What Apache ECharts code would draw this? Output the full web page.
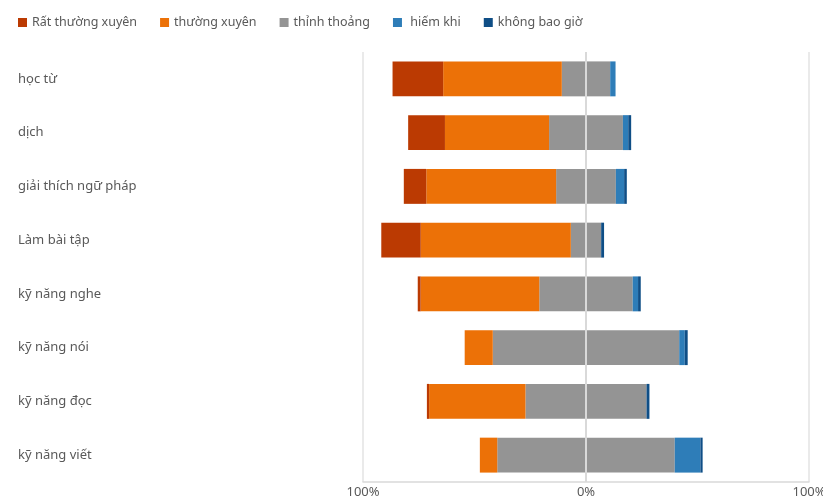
<!DOCTYPE html>
<html>
<head>
<meta charset="utf-8">
<script src="https://cdn.jsdelivr.net/npm/echarts@6/dist/echarts.min.js"></script>
<style>
  html, body { margin: 0; padding: 0; background: #fff; }
  #chart { width: 823px; height: 500px; }
</style>
</head>
<body>
<div id="chart"></div>
<script>
// Survey categories, top to bottom
const categories = ['học từ', 'dịch', 'giải thích ngữ pháp', 'Làm bài tập', 'kỹ năng nghe', 'kỹ năng nói', 'kỹ năng đọc', 'kỹ năng viết'];

// Share of answers per frequency level (%)
const ratThuongXuyen = [22.7, 16.5, 10.1, 17.7, 1.3, 0, 1.0, 0];
const thuongXuyen    = [53.2, 46.7, 58.2, 67.3, 53.2, 12.6, 43.2, 7.8];
const thinhThoang    = [21.7, 33.1, 26.8, 13.6, 41.9, 83.6, 54.3, 79.6];
const hiemKhi        = [2.4, 2.4, 3.7, 0, 2.4, 2.5, 0, 11.5];
const khongBaoGio    = [0, 1.3, 1.2, 1.3, 1.2, 1.3, 1.3, 1.0];

const levelNames = ['Rất thường xuyên', 'thường xuyên', 'thỉnh thoảng', ' hiếm khi', 'không bao giờ'];
const axisTicks = [-100, 0, 100];

const colors = {
  rat: '#BB3A02',
  thuong: '#EC7107',
  thinh: '#949494',
  hiem: '#2E7DB8',
  khong: '#0F4E86'
};
const levelColors = [colors.rat, colors.thuong, colors.thinh, colors.hiem, colors.khong];

const font = "'Noto Sans', 'Open Sans', sans-serif";

function barSeries(name, data, color) {
  return {
    name: name,
    type: 'bar',
    stack: 'likert',
    barWidth: '65%',
    data: data,
    itemStyle: { color: color },
    emphasis: { disabled: true }
  };
}

// Neutral answers are split around zero; frequent levels go left, rare ones right.
const neg = arr => arr.map(v => -v);
const half = arr => arr.map(v => v / 2);

const series = [
  barSeries(levelNames[2], neg(half(thinhThoang)), colors.thinh),
  barSeries(levelNames[1], neg(thuongXuyen), colors.thuong),
  barSeries(levelNames[0], neg(ratThuongXuyen), colors.rat),
  barSeries(levelNames[2], half(thinhThoang), colors.thinh),
  barSeries(levelNames[3], hiemKhi, colors.hiem),
  barSeries(levelNames[4], khongBaoGio, colors.khong)
];
// zero line drawn on top of the bars
series[5].markLine = {
  silent: true,
  symbol: 'none',
  label: { show: false },
  lineStyle: { color: '#d9d9d9', width: 2, type: 'solid' },
  data: [{ xAxis: 0 }],
  z: 10
};

const chart = echarts.init(document.getElementById('chart'), null, { renderer: 'canvas' });
chart.setOption({
  animation: false,
  textStyle: { fontFamily: font },
  color: levelColors,
  legend: {
    data: levelNames.map((n, i) => ({ name: n, itemStyle: { color: levelColors[i] } })),
    left: 13,
    top: 11,
    icon: 'rect',
    itemWidth: 9,
    itemHeight: 9,
    itemGap: 23,
    textStyle: { fontFamily: font, fontSize: 12.5, color: '#595959' },
    selectedMode: false
  },
  grid: { left: 363, right: 14, top: 52, bottom: 18, containLabel: false, outerBoundsMode: 'none' },
  xAxis: {
    type: 'value',
    min: axisTicks[0],
    max: axisTicks[axisTicks.length - 1],
    interval: 100,
    axisLine: { show: true, lineStyle: { color: '#d9d9d9', width: 1.5 } },
    axisTick: { show: false },
    splitLine: { show: true, lineStyle: { color: '#e3e3e3', width: 1.5 } },
    axisLabel: {
      formatter: v => Math.abs(v) + '%',
      color: '#595959',
      fontSize: 13,
      fontFamily: font,
      margin: 4
    }
  },
  yAxis: {
    type: 'category',
    data: categories,
    inverse: true,
    axisLine: { show: false },
    axisTick: { show: false },
    splitLine: { show: false },
    axisLabel: {
      align: 'left',
      margin: 345,
      color: '#595959',
      fontSize: 13,
      fontFamily: font
    }
  },
  series: series
});
</script>
</body>
</html>
